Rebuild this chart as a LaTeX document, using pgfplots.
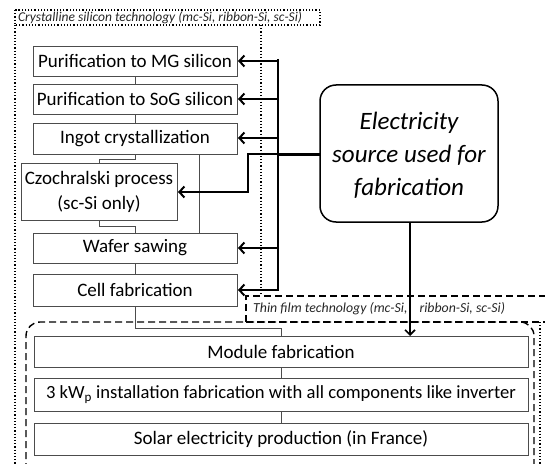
\documentclass[border=0pt]{standalone}
\usepackage{fontspec}
\setmainfont{Carlito}
\usepackage{pgfplots}
\pgfplotsset{compat=1.18}
\usetikzlibrary{arrows.meta}
\begin{document}
\begin{tikzpicture}
\path[use as bounding box] (0,0) rectangle (545bp,464bp);
\clip (0,0) rectangle (545bp,464bp);
\begin{axis}[scale only axis, width=545bp, height=464bp,
  xmin=0, xmax=545, ymin=0, ymax=464, y dir=reverse,
  hide axis, clip=false, anchor=south west, at={(0,0)}]
\tikzset{
  bx/.style={draw=black!70, line width=0.8bp, fill=white},
  btxt/.style={font=\fontsize{19bp}{22bp}\selectfont, align=center, inner sep=0pt},
  conn/.style={draw=black!70, line width=0.8bp},
  arr/.style={black, line width=2bp, -{Straight Barb[length=5bp,width=11bp,line width=2bp]}},
  ttl/.style={font=\fontsize{13.5bp}{16bp}\selectfont\itshape, text=black!85, inner sep=0pt, anchor=west},
}
% outer dotted region (crystalline)
\draw[black, line width=1.2bp, dotted] (15,10) rectangle (320,25);
\draw[black, line width=1.2bp, dotted] (15,25) -- (15,470);
\draw[black, line width=1.2bp, dotted] (261,25) -- (261,296);
\draw[black, line width=1.2bp, dotted] (540,322) -- (540,470);
\node[ttl] at (18,17.5) {Crystalline silicon technology (mc-Si, ribbon-Si, sc-Si)};
% thin film dashed region
\draw[black, line width=1.4bp, dash pattern=on 7bp off 4bp, rounded corners=14bp] (26,470) -- (26,322) -- (534,322) -- (534,470);
\draw[black, line width=1.4bp, dash pattern=on 7bp off 4bp] (246,322) -- (246,296) -- (560,296);
\draw[black, line width=1.4bp, dash pattern=on 7bp off 4bp] (246,322) -- (560,322);
\node[ttl, font=\fontsize{13.8bp}{16bp}\selectfont\itshape] at (253,309) {Thin film technology (mc-Si,\hspace{9bp} ribbon-Si, sc-Si)};
% connectors
\addplot[conn] coordinates {(135,76) (135,84)};
\addplot[conn] coordinates {(135,114) (135,123)};
\addplot[conn] coordinates {(135,154) (135,159) (99,159) (99,163)};
\addplot[conn] coordinates {(99,220) (99,226) (135,226) (135,233)};
\addplot[conn] coordinates {(199,154) (199,233)};
\addplot[conn] coordinates {(135,263) (135,274)};
\addplot[conn] coordinates {(135,306) (135,328) (281,328) (281,336)};
\addplot[conn] coordinates {(281,367) (281,378)};
\addplot[conn] coordinates {(281,411) (281,423)};
% boxes
\draw[bx] (33,46) rectangle (237,76);
\node[btxt] at (135,61) {Purification to MG silicon};
\draw[bx] (33,84) rectangle (237,114);
\node[btxt] at (135,99) {Purification to SoG silicon};
\draw[bx] (33,123) rectangle (237,154);
\node[btxt] at (135,138.5) {Ingot crystallization};
\draw[bx] (21,163) rectangle (177,220);
\node[btxt, font=\fontsize{19bp}{25bp}\selectfont] at (99,191.5) {Czochralski process\\(sc-Si only)};
\draw[bx] (33,233) rectangle (237,263);
\node[btxt] at (135,248) {Wafer sawing};
\draw[bx] (33,274) rectangle (237,306);
\node[btxt] at (135,290) {Cell fabrication};
\draw[bx] (34,336) rectangle (528,367);
\node[btxt] at (281,351.5) {Module fabrication};
\draw[bx] (34,378) rectangle (528,411);
\node[btxt, font=\fontsize{18.6bp}{22bp}\selectfont] at (281,394.5) {3 kW\textsubscript{p} installation fabrication with all components like inverter};
\draw[bx] (34,423) rectangle (528,455);
\node[btxt] at (281,439) {Solar electricity production (in France)};
% electricity source box
\draw[black, line width=1.5bp, rounded corners=16bp, fill=white] (320,85) rectangle (498,222);
\node[font=\fontsize{25bp}{33bp}\selectfont\itshape, align=center, inner sep=0pt] at (409,155) {Electricity\\source used for\\fabrication};
% arrows
\addplot[black, line width=2bp] coordinates {(278,59) (278,291)};
\addplot[arr] coordinates {(279,61) (238,61)};
\addplot[arr] coordinates {(279,99) (238,99)};
\addplot[arr] coordinates {(279,138) (238,138)};
\addplot[arr] coordinates {(279,248) (238,248)};
\addplot[arr] coordinates {(279,290) (238,290)};
\addplot[black, line width=3bp] coordinates {(320,154) (277,154)};
\addplot[arr, line width=2.2bp] coordinates {(278,154) (248,154) (248,192) (178,192)};
\addplot[black, line width=1.6bp, -{Straight Barb[length=5bp,width=10bp,line width=1.6bp]}] coordinates {(410,222) (410,336)};
\end{axis}
\end{tikzpicture}
\end{document}
